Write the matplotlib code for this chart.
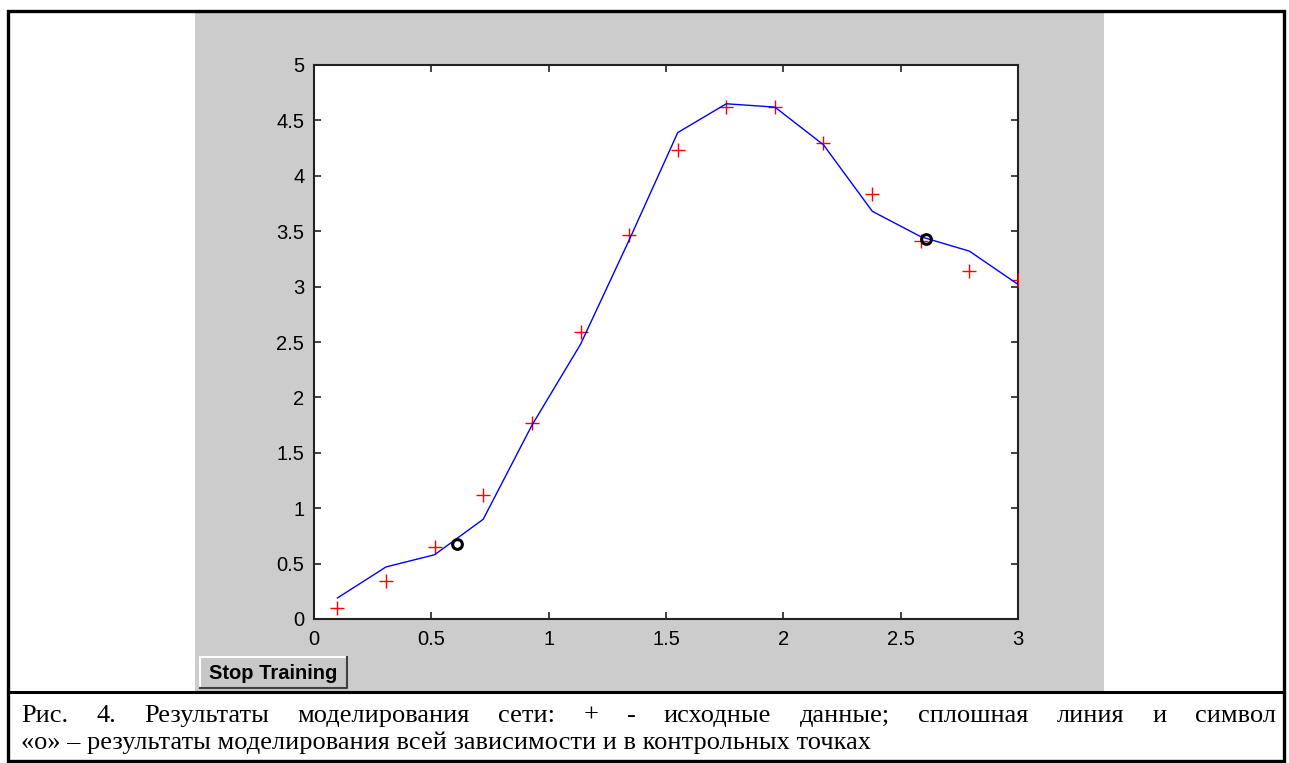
#!/usr/bin/env python3

# plot.py - network simulation result (MATLAB style figure with caption)

import matplotlib
matplotlib.use("Agg")
import matplotlib.pyplot as plt
from matplotlib.patches import Rectangle
from matplotlib.lines import Line2D

W, H = 1289, 763

# source data (+)
x_data = [0.1, 0.307, 0.514, 0.721, 0.929, 1.136, 1.343, 1.55,
          1.757, 1.964, 2.171, 2.379, 2.586, 2.793, 3.0]
y_data = [0.10, 0.34, 0.65, 1.12, 1.77, 2.59, 3.47, 4.23,
          4.62, 4.62, 4.30, 3.84, 3.41, 3.14, 3.06]

# simulated curve (solid line)
y_sim = [0.19, 0.47, 0.58, 0.90, 1.75, 2.48, 3.42, 4.39,
         4.65, 4.62, 4.28, 3.68, 3.45, 3.32, 3.02]

# control points (o)
x_ctrl = [0.61, 2.61]
y_ctrl = [0.68, 3.43]

x_ticks = [0, 0.5, 1, 1.5, 2, 2.5, 3]
y_ticks = [0, 0.5, 1, 1.5, 2, 2.5, 3, 3.5, 4, 4.5, 5]

caption_1 = ("Рис. 4. Результаты моделирования сети: + - исходные данные; "
             "сплошная линия и символ")
caption_2 = "«о» – результаты моделирования всей зависимости и в контрольных точках"


def fx(px):
    return px / W


def fy(py):
    return 1 - py / H


fig = plt.figure(figsize=(W / 100, H / 100), dpi=100, facecolor="white")

# gray MATLAB figure window
fig.patches.append(Rectangle((fx(195), fy(692)), fx(1104) - fx(195), fy(11) - fy(692),
                             transform=fig.transFigure, facecolor="#cccccc",
                             edgecolor="none", zorder=-2))

# outer frame and separator
fig.patches.append(Rectangle((fx(8), fy(761)), fx(1284) - fx(8), fy(11) - fy(761),
                             transform=fig.transFigure, facecolor="none",
                             edgecolor="black", linewidth=2.4, zorder=5))
fig.lines.append(Line2D([fx(8), fx(1284)], [fy(692), fy(692)],
                        transform=fig.transFigure, color="black", linewidth=2.2, zorder=5))

ax = fig.add_axes([fx(314), fy(619), fx(1018) - fx(314), fy(65) - fy(619)])
ax.set_zorder(1)
ax.set_facecolor("white")

ax.plot(x_data, y_data, linestyle="none", marker="+", color="red",
        markersize=10.5, markeredgewidth=1.0, zorder=3)
ax.plot(x_data, y_sim, color="#0000ff", linewidth=1.0, zorder=4)
ax.plot(x_ctrl, y_ctrl, linestyle="none", marker="o", markerfacecolor="none",
        markeredgecolor="black", markersize=7, markeredgewidth=2.2, zorder=5)

ax.set_xlim(0, 3)
ax.set_ylim(0, 5)
ax.set_xticks(x_ticks)
ax.set_xticklabels([f"{t:g}" for t in x_ticks])
ax.set_yticks(y_ticks)
ax.set_yticklabels([f"{t:g}" for t in y_ticks])
ax.tick_params(direction="in", length=5, width=1.2, top=True, right=True,
               labelsize=14.5, colors="#222222", labelcolor="black")
ax.tick_params(axis="x", pad=8)
ax.tick_params(axis="y", pad=7)
for lab in ax.get_xticklabels() + ax.get_yticklabels():
    lab.set_fontfamily("Liberation Sans")
for sp in ax.spines.values():
    sp.set_linewidth(1.5)
    sp.set_color("#222222")

# Stop Training button
bx0, bx1, by0, by1 = 200, 347, 657, 688
fig.patches.append(Rectangle((fx(bx0), fy(by1)), fx(bx1) - fx(bx0), fy(by0) - fy(by1),
                             transform=fig.transFigure, facecolor="#c8c8c8",
                             edgecolor="none", zorder=2))
fig.lines.append(Line2D([fx(bx0), fx(bx0), fx(bx1)], [fy(by1), fy(by0), fy(by0)],
                        transform=fig.transFigure, color="white", linewidth=1.5, zorder=3))
fig.lines.append(Line2D([fx(bx0), fx(bx1), fx(bx1)], [fy(by1), fy(by1), fy(by0)],
                        transform=fig.transFigure, color="#404040", linewidth=1.5, zorder=3))
fig.text(fx((bx0 + bx1) / 2), fy((by0 + by1) / 2 + 1), "Stop Training",
         ha="center", va="center", fontsize=14.5, fontweight="bold",
         family="Liberation Sans", color="black", zorder=4)

# caption, first line justified between the frame edges
cap_font = dict(fontsize=19, family="Liberation Serif", color="black")
fig.canvas.draw()
renderer = fig.canvas.get_renderer()
words = caption_1.split()
objs = [fig.text(0, fy(722), w, ha="left", va="baseline", **cap_font) for w in words]
widths = [o.get_window_extent(renderer).width for o in objs]
left, right = 21, 1276
gap = (right - left - sum(widths)) / (len(words) - 1)
pos = left
for o, w in zip(objs, widths):
    o.set_x(fx(pos))
    pos += w + gap

fig.text(fx(21), fy(749), caption_2, ha="left", va="baseline", **cap_font)

fig.savefig("out.png", dpi=100, facecolor="white")
